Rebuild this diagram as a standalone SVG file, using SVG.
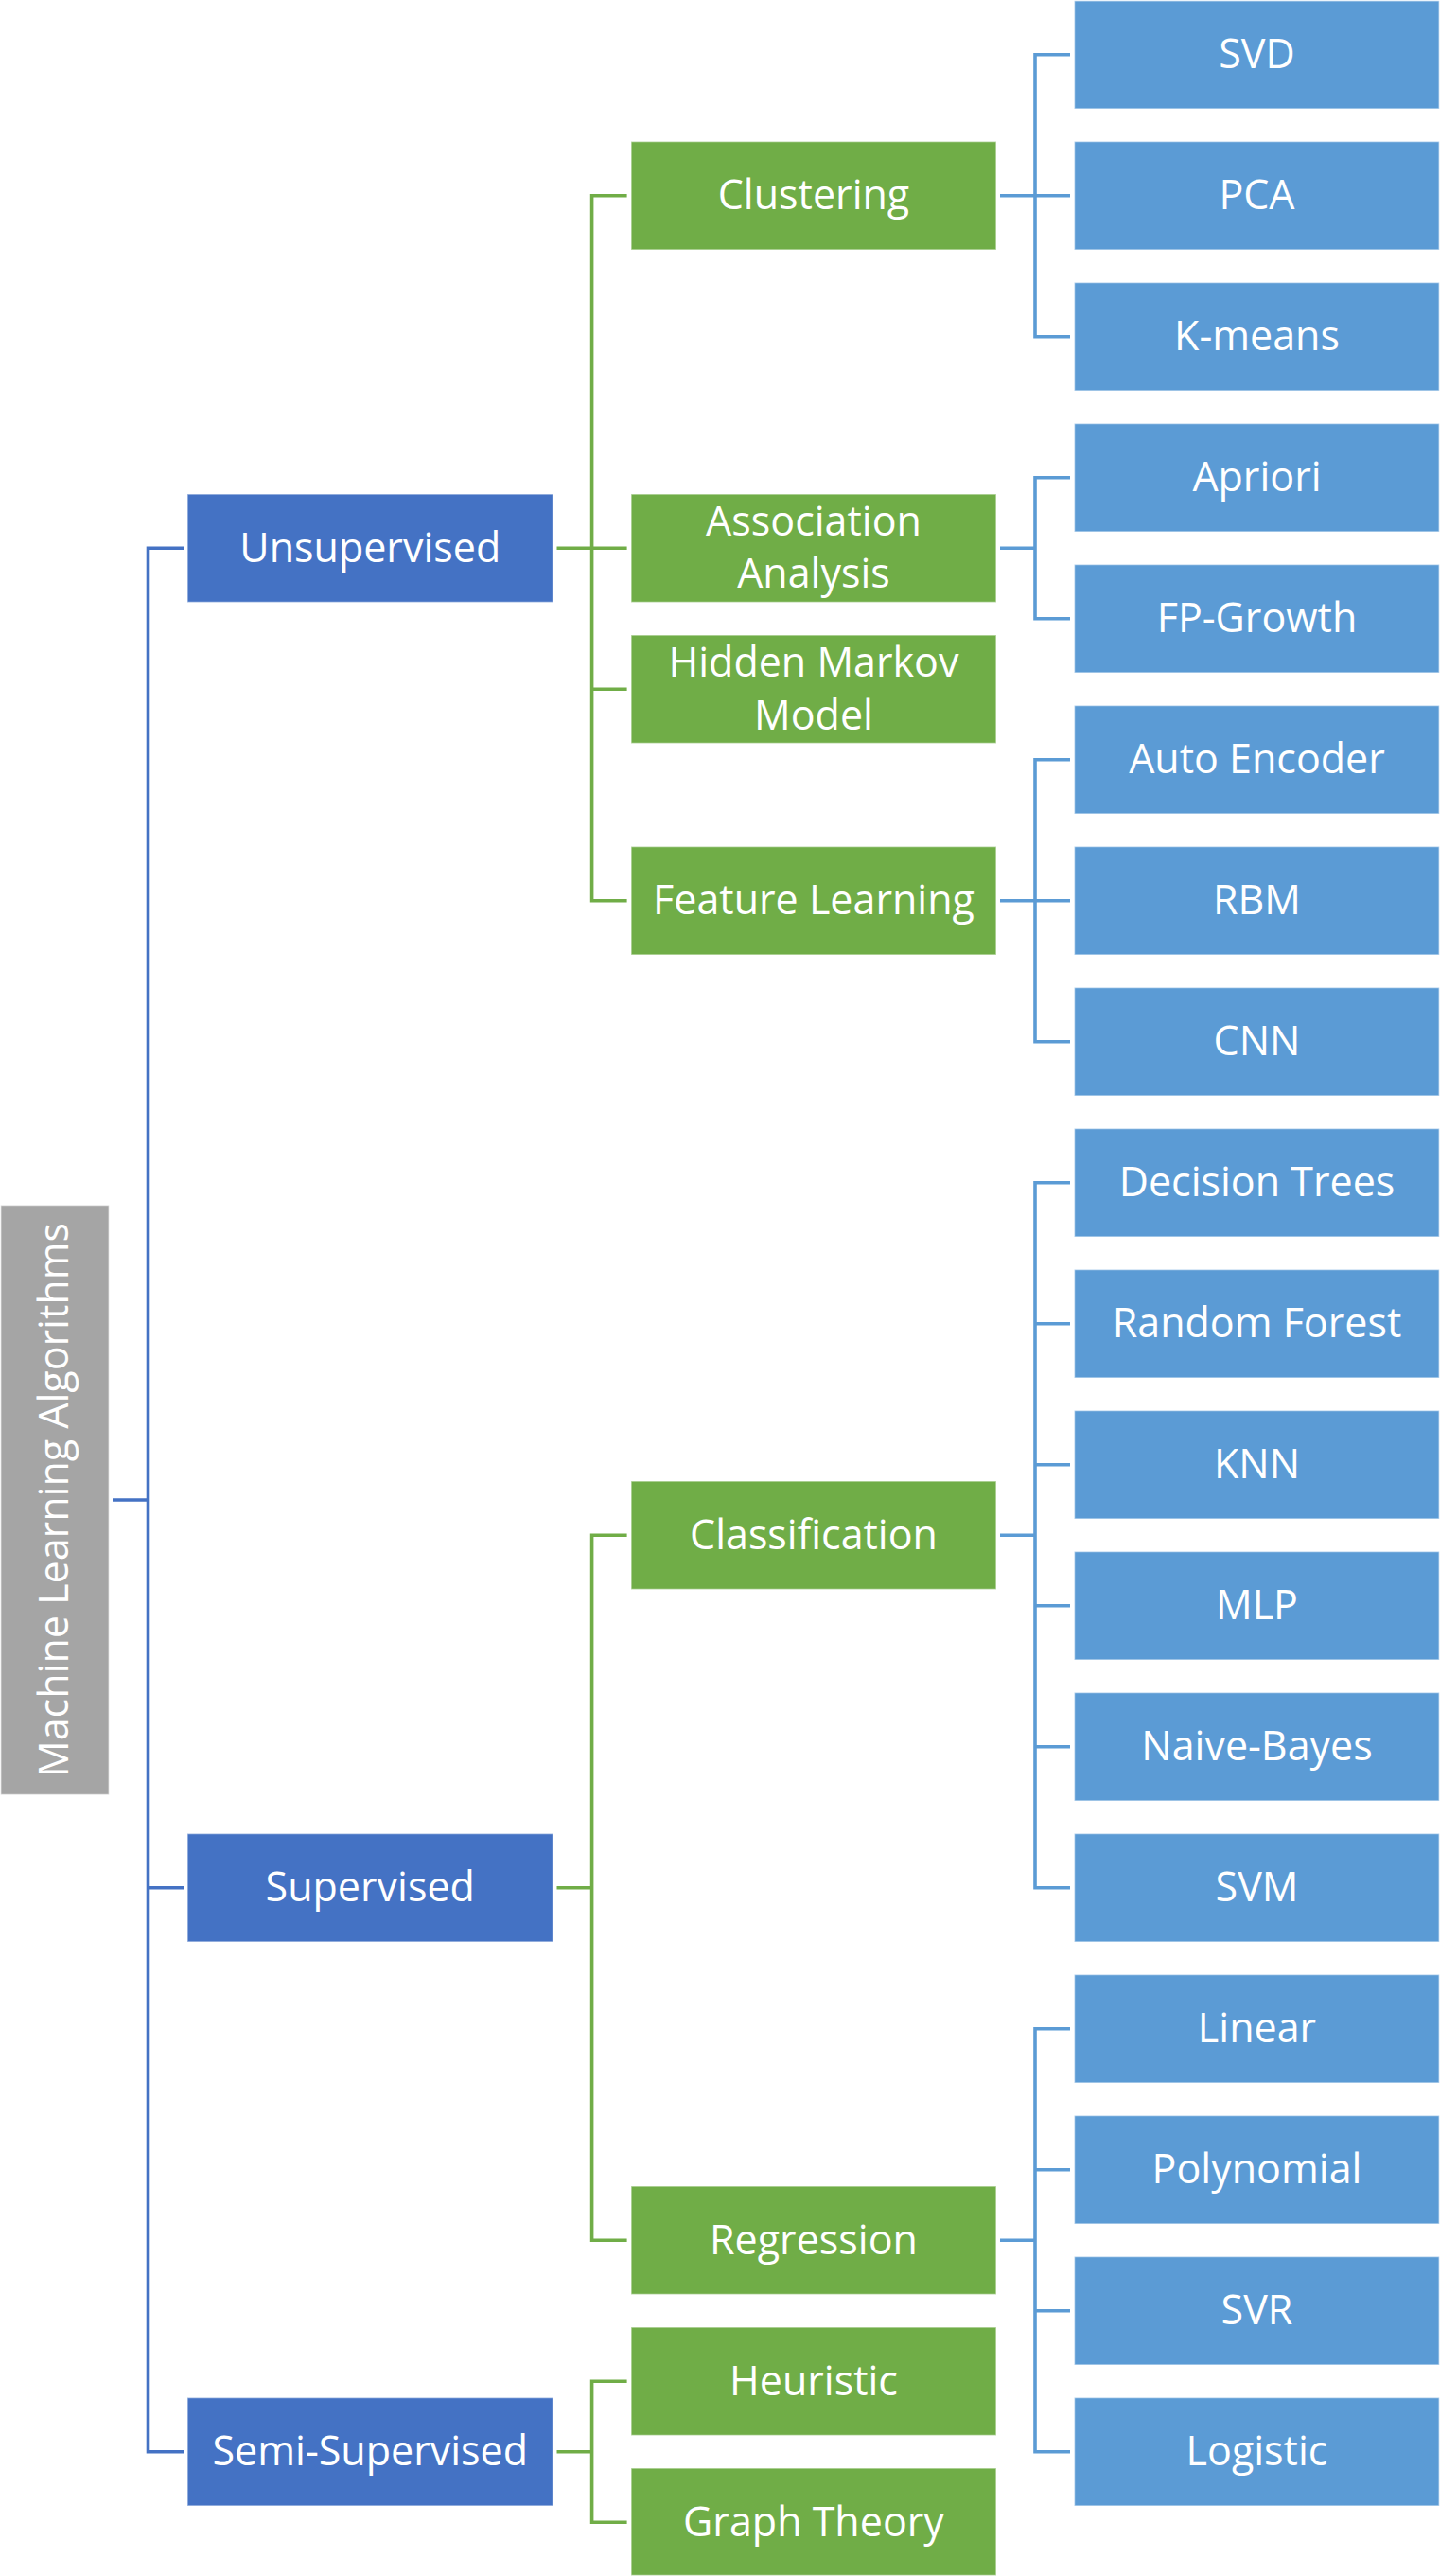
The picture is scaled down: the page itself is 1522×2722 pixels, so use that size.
<svg xmlns="http://www.w3.org/2000/svg" width="1522" height="2722" viewBox="0 0 1522 2722">
<style>
rect{stroke:#ffffff;stroke-opacity:.55;stroke-width:1.5}
.root{fill:#A5A5A5}
.l1{fill:#4472C4}
.l2{fill:#70AD47}
.l3{fill:#5B9BD5}
text{font-family:"Open Sans","Noto Sans","DejaVu Sans",sans-serif;font-size:43px;fill:#ffffff;text-anchor:middle}
.c{fill:none;stroke-width:3.6;stroke-linejoin:miter;stroke-linecap:butt}
.cb{stroke:#4472C4}
.cg{stroke:#70AD47}
.cl{stroke:#5B9BD5}
</style>
<rect width="1522" height="2722" fill="#ffffff" stroke="none"/>
<g id="connectors">
<path class="c cb" d="M119,1585H156.5 M194,579.25H156.5V2590.75H194 M156.5,1994.75H194"/>
<path class="c cg" d="M588.5,579.25H625.6 M662.6,206.75H625.6V951.75H662.6 M625.6,728.25H662.6 M625.6,579.25H662.6"/>
<path class="c cg" d="M588.5,1994.75H625.6 M662.6,1622.25H625.6V2367.25H662.6"/>
<path class="c cg" d="M588.5,2590.75H625.6 M662.6,2516.25H625.6V2665.25H662.6"/>
<path class="c cl" d="M1057,206.75H1094 M1131,57.75H1094V355.75H1131 M1094,206.75H1131"/>
<path class="c cl" d="M1057,579.25H1094 M1131,504.75H1094V653.75H1131"/>
<path class="c cl" d="M1057,951.75H1094 M1131,802.75H1094V1100.75H1131 M1094,951.75H1131"/>
<path class="c cl" d="M1057,1622.25H1094 M1131,1249.75H1094V1994.75H1131 M1094,1398.75H1131 M1094,1547.75H1131 M1094,1696.75H1131 M1094,1845.75H1131"/>
<path class="c cl" d="M1057,2367.25H1094 M1131,2143.75H1094V2590.75H1131 M1094,2292.75H1131 M1094,2441.75H1131"/>
</g>
<g id="root">
<rect class="root" x="0.75" y="1273.5" width="114.5" height="623"/>
<text transform="translate(71.5,1585) rotate(-90)" x="0" y="0">Machine Learning Algorithms</text>
</g>
<g id="unsupervised"><rect class="l1" x="198" y="522" width="386.5" height="114.5"/><text x="391.25" y="593.75">Unsupervised</text></g>
<g id="supervised"><rect class="l1" x="198" y="1937.5" width="386.5" height="114.5"/><text x="391.25" y="2009.25">Supervised</text></g>
<g id="semi-supervised"><rect class="l1" x="198" y="2533.5" width="386.5" height="114.5"/><text x="391.25" y="2605.25">Semi-Supervised</text></g>

<g id="clustering"><rect class="l2" x="667" y="149.5" width="386" height="114.5"/><text x="860" y="221.25">Clustering</text></g>
<g id="association-analysis"><rect class="l2" x="667" y="522" width="386" height="114.5"/><text x="860" y="566">Association</text><text x="860" y="621.25">Analysis</text></g>
<g id="hidden-markov-model"><rect class="l2" x="667" y="671" width="386" height="114.5"/><text x="860" y="715.25">Hidden Markov</text><text x="860" y="770.75">Model</text></g>
<g id="feature-learning"><rect class="l2" x="667" y="894.5" width="386" height="114.5"/><text x="860" y="966.25">Feature Learning</text></g>
<g id="classification"><rect class="l2" x="667" y="1565" width="386" height="114.5"/><text x="860" y="1636.75">Classification</text></g>
<g id="regression"><rect class="l2" x="667" y="2310" width="386" height="114.5"/><text x="860" y="2381.75">Regression</text></g>
<g id="heuristic"><rect class="l2" x="667" y="2459" width="386" height="114.5"/><text x="860" y="2530.75">Heuristic</text></g>
<g id="graph-theory"><rect class="l2" x="667" y="2608" width="386" height="113.5"/><text x="860" y="2679.75">Graph Theory</text></g>

<g id="svd"><rect class="l3" x="1135.5" y="0.75" width="385.75" height="114.25"/><text x="1328.5" y="72">SVD</text></g>
<g id="pca"><rect class="l3" x="1135.5" y="149.5" width="385.75" height="114.5"/><text x="1328.5" y="221">PCA</text></g>
<g id="k-means"><rect class="l3" x="1135.5" y="298.5" width="385.75" height="114.5"/><text x="1328.5" y="370">K-means</text></g>
<g id="apriori"><rect class="l3" x="1135.5" y="447.5" width="385.75" height="114.5"/><text x="1328.5" y="519">Apriori</text></g>
<g id="fp-growth"><rect class="l3" x="1135.5" y="596.5" width="385.75" height="114.5"/><text x="1328.5" y="668">FP-Growth</text></g>
<g id="auto-encoder"><rect class="l3" x="1135.5" y="745.5" width="385.75" height="114.5"/><text x="1328.5" y="817">Auto Encoder</text></g>
<g id="rbm"><rect class="l3" x="1135.5" y="894.5" width="385.75" height="114.5"/><text x="1328.5" y="966">RBM</text></g>
<g id="cnn"><rect class="l3" x="1135.5" y="1043.5" width="385.75" height="114.5"/><text x="1328.5" y="1115">CNN</text></g>
<g id="decision-trees"><rect class="l3" x="1135.5" y="1192.5" width="385.75" height="114.5"/><text x="1328.5" y="1264">Decision Trees</text></g>
<g id="random-forest"><rect class="l3" x="1135.5" y="1341.5" width="385.75" height="114.5"/><text x="1328.5" y="1413">Random Forest</text></g>
<g id="knn"><rect class="l3" x="1135.5" y="1490.5" width="385.75" height="114.5"/><text x="1328.5" y="1562">KNN</text></g>
<g id="mlp"><rect class="l3" x="1135.5" y="1639.5" width="385.75" height="114.5"/><text x="1328.5" y="1711">MLP</text></g>
<g id="naive-bayes"><rect class="l3" x="1135.5" y="1788.5" width="385.75" height="114.5"/><text x="1328.5" y="1860">Naive-Bayes</text></g>
<g id="svm"><rect class="l3" x="1135.5" y="1937.5" width="385.75" height="114.5"/><text x="1328.5" y="2009">SVM</text></g>
<g id="linear"><rect class="l3" x="1135.5" y="2086.5" width="385.75" height="114.5"/><text x="1328.5" y="2158">Linear</text></g>
<g id="polynomial"><rect class="l3" x="1135.5" y="2235.5" width="385.75" height="114.5"/><text x="1328.5" y="2307">Polynomial</text></g>
<g id="svr"><rect class="l3" x="1135.5" y="2384.5" width="385.75" height="114.5"/><text x="1328.5" y="2456">SVR</text></g>
<g id="logistic"><rect class="l3" x="1135.5" y="2533.5" width="385.75" height="114.5"/><text x="1328.5" y="2605">Logistic</text></g>
</svg>
